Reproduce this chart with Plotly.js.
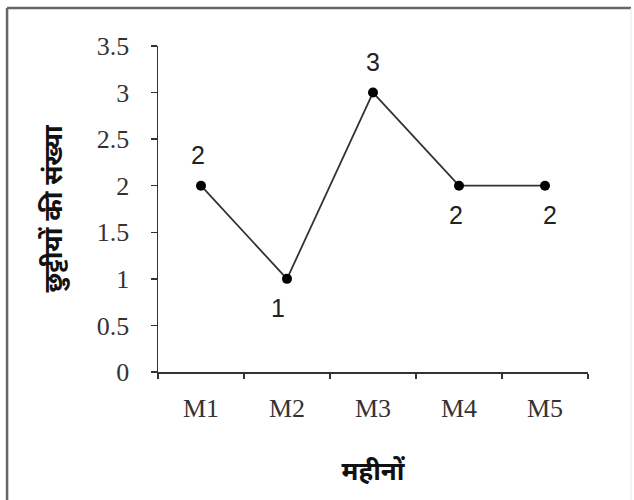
<!DOCTYPE html>
<html>
<head>
<meta charset="utf-8">
<script src="https://cdn.plot.ly/plotly-3.0.1.min.js"></script>
<style>
html,body{margin:0;padding:0;background:#fff;}
#chart{width:634px;height:500px;}
</style>
</head>
<body>
<div id="chart"></div>
<script>
const months = ["M1", "M2", "M3", "M4", "M5"];
const leaves = [2, 1, 3, 2, 2];
const labelAbove = [true, false, true, false, false];
const labelXShift = [-3, -9, 0, -3, 5];
const yTicks = [0, 0.5, 1, 1.5, 2, 2.5, 3, 3.5];
const yTickText = ["0", "0.5", "1", "1.5", "2", "2.5", "3", "3.5"];
const xTitle = "महीनों";
const yTitle = "छुट्टीयों की संख्या";

const trace = {
  x: months,
  y: leaves,
  type: "scatter",
  mode: "lines+markers",
  line: {color: "#333333", width: 1.8},
  marker: {color: "#000000", size: 10},
  hoverinfo: "skip",
  showlegend: false
};

const annotations = months.map((m, i) => ({
  x: m, y: leaves[i], xref: "x", yref: "y",
  text: String(leaves[i]), showarrow: false,
  xshift: labelXShift[i], yshift: labelAbove[i] ? 31 : -29,
  font: {family: "Liberation Sans, Arial, sans-serif", size: 25, color: "#222"}
}));

const layout = {
  width: 634, height: 500,
  margin: {l: 158, r: 46, t: 46, b: 128},
  paper_bgcolor: "#ffffff", plot_bgcolor: "#ffffff",
  xaxis: {
    type: "category", range: [-0.5, 4.5],
    showgrid: false, zeroline: false,
    showline: true, linecolor: "#333", linewidth: 1.5,
    ticks: "outside", ticklen: 5, tickcolor: "#333", tickwidth: 1.5,
    tickson: "boundaries",
    ticklabelstandoff: 12,
    tickfont: {family: "Liberation Serif, Times New Roman, serif", size: 26, color: "#333"},
    title: {text: xTitle, standoff: 40,
      font: {family: "Noto Sans, Noto Sans Devanagari, sans-serif", size: 26, color: "#111", weight: "bold"}}
  },
  yaxis: {
    range: [0, 3.5], tickvals: yTicks, ticktext: yTickText,
    showgrid: false, zeroline: false,
    showline: true, linecolor: "#333", linewidth: 1.5,
    ticks: "outside", ticklen: 6, tickcolor: "#333", tickwidth: 1.5,
    ticklabelstandoff: 16,
    tickfont: {family: "Liberation Serif, Times New Roman, serif", size: 26, color: "#333"},
    title: {text: yTitle, standoff: 26,
      font: {family: "Noto Sans, Noto Sans Devanagari, sans-serif", size: 26, color: "#111", weight: "bold"}}
  },
  annotations: annotations,
  shapes: [
    {type: "line", xref: "paper", yref: "paper", x0: -0.351, x1: -0.351, y0: -0.42, y1: 1.1166, line: {color: "#666", width: 2.5}},
    {type: "line", xref: "paper", yref: "paper", x0: -0.351, x1: 1.1, y0: 1.1166, y1: 1.1166, line: {color: "#666", width: 2.5}},
    {type: "line", xref: "paper", yref: "paper", x0: 1.1, x1: 1.1, y0: -0.42, y1: 1.1166, line: {color: "#e6e6e6", width: 1}}
  ]
};

Plotly.newPlot("chart", [trace], layout, {staticPlot: true, displayModeBar: false});
</script>
</body>
</html>
